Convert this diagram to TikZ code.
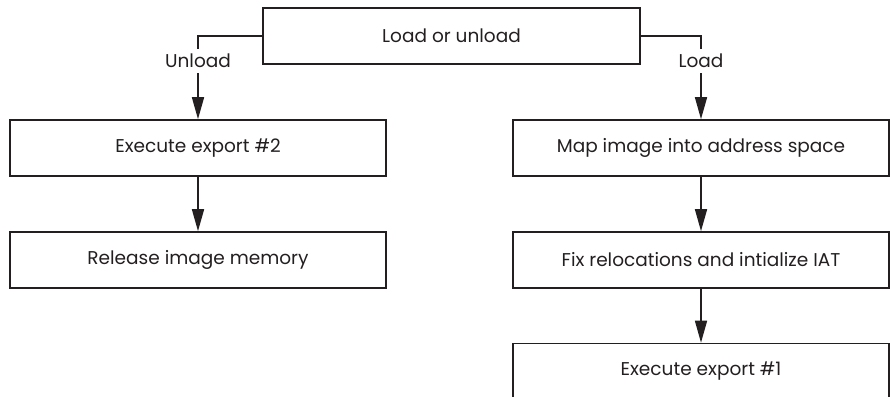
\documentclass[tikz,border=0pt]{standalone}
\usepackage{fontspec}
\setmainfont{Poppins}
\usetikzlibrary{arrows.meta}
\definecolor{ink}{HTML}{231F20}
\tikzset{
  box/.style={draw=ink, line width=1.6pt, minimum width=376pt, minimum height=56pt, inner sep=0pt, font=\fontsize{18.5}{21}\selectfont, text=ink},
  conn/.style={draw=ink, line width=1.6pt},
  arr/.style={conn, -{Triangle[length=22pt,width=12pt]}},
  lbl/.style={fill=white, inner sep=1pt, font=\fontsize{18.5}{21}\selectfont, text=ink}
}
\begin{document}
\begin{tikzpicture}[x=1pt,y=-1pt]
\useasboundingbox (0,0) rectangle (890,396);
\begin{scope}
\clip (0,0) rectangle (890,396);
\node[box, minimum width=377pt] (top) at (451.5,36) {Load or unload};
\node[box] (exp2) at (198,148) {Execute export \#2};
\node[box] (rel) at (198,260) {Release image memory};
\node[box] (map) at (701,148) {Map image into address space};
\node[box] (fix) at (701,260) {Fix relocations and intialize IAT};
\node[box] (exp1) at (701,371.5) {Execute export \#1};
\draw[arr] (top.west) -| (exp2.north);
\draw[arr] (top.east) -| (map.north);
\node[lbl, minimum height=24pt] (ul) at (198,61) {Unload};
\node[lbl, minimum height=24pt] (ll) at (701,61) {Load};
\draw[arr] (exp2) -- (rel);
\draw[arr] (map) -- (fix);
\draw[arr] (fix) -- (exp1);
\end{scope}
\end{tikzpicture}
\end{document}
